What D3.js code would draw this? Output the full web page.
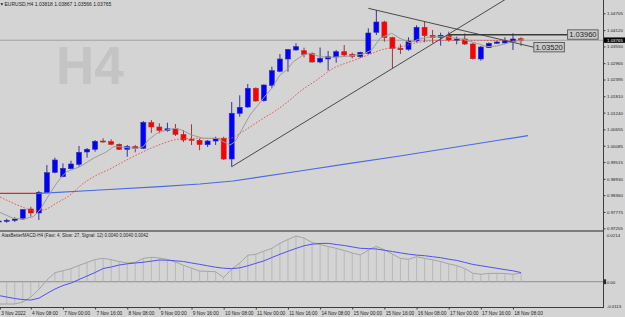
<!DOCTYPE html>
<html>
<head>
<meta charset="utf-8">
<script src="https://cdn.jsdelivr.net/npm/d3@7/dist/d3.min.js"></script>
<style>
  html, body { margin: 0; padding: 0; background: #d4d4d4; }
  svg { display: block; font-family: "Liberation Sans", Arial, sans-serif; }
</style>
</head>
<body>
<div id="chart"></div>
<script>
// ============================================================
//  DATA  (EURUSD H4, bar -1 = 3 Nov 20:00 ... bar 64 = 18 Nov 12:00)
// ============================================================

const openP = [0.97425, 0.97449, 0.97484, 0.97529, 0.97878, 0.97739, 0.98447, 0.99158, 0.99005, 0.99284,
    0.99438, 0.99867, 0.99961, 1.00250, 1.00226, 1.00135, 0.99961, 1.00052, 0.99996, 1.00896,
    1.00739, 1.00617, 1.00676, 1.00477, 1.00310, 1.00275, 1.00121, 1.00250, 1.00345, 0.99622,
    1.01217, 1.01436, 1.02089, 1.01656, 1.02193, 1.02682, 1.03111, 1.03425, 1.03400, 1.03296,
    1.03006, 1.03111, 1.03181, 1.03365, 1.03275, 1.03191, 1.03310, 1.04042, 1.04402, 1.03854,
    1.03484, 1.03449, 1.03739, 1.04217, 1.03938, 1.03868, 1.03938, 1.03763, 1.03809, 1.03634,
    1.03111, 1.03505, 1.03659, 1.03669, 1.03714, 1.03818];

const highP = [0.97495, 0.97540, 0.97589, 0.97878, 0.97958, 0.98506, 0.99413, 0.99668, 0.99472, 0.99563,
    1.00076, 1.00006, 1.00285, 1.00345, 1.00310, 1.00163, 1.00111, 1.00111, 1.00948, 1.00983,
    1.00868, 1.00889, 1.00843, 1.00634, 1.00833, 1.00331, 1.00285, 1.00400, 1.00400, 1.01611,
    1.01845, 1.02239, 1.02124, 1.02228, 1.02842, 1.03285, 1.03460, 1.03659, 1.03505, 1.03345,
    1.03512, 1.03390, 1.03425, 1.03599, 1.03331, 1.03365, 1.04182, 1.04820, 1.04447, 1.03889,
    1.03624, 1.03868, 1.04286, 1.04426, 1.04122, 1.04028, 1.04063, 1.03889, 1.04007, 1.03669,
    1.03564, 1.03686, 1.03739, 1.03868, 1.04007, 1.03867];

const lowP = [0.97390, 0.97400, 0.97425, 0.97505, 0.97610, 0.97495, 0.98426, 0.99124, 0.98984, 0.99263,
    0.99354, 0.99668, 0.99877, 1.00191, 1.00100, 0.99936, 0.99703, 0.99856, 0.99971, 1.00529,
    1.00519, 1.00575, 1.00425, 1.00215, 1.00111, 0.99926, 1.00041, 1.00111, 0.99588, 0.99354,
    1.01098, 1.01402, 1.01621, 1.01621, 1.02089, 1.02647, 1.02668, 1.03400, 1.03170, 1.02982,
    1.02961, 1.02710, 1.02982, 1.03191, 1.03135, 1.03146, 1.03275, 1.03948, 1.03714, 1.02786,
    1.03285, 1.03400, 1.03693, 1.03693, 1.03659, 1.03575, 1.03714, 1.03624, 1.03599, 1.03093,
    1.03052, 1.03495, 1.03634, 1.03624, 1.03425, 1.03566];

const closeP = [0.97460, 0.97484, 0.97529, 0.97854, 0.97739, 0.98461, 0.99145, 0.99588, 0.99298, 0.99448,
    0.99856, 0.99961, 1.00240, 1.00215, 1.00135, 0.99961, 1.00052, 0.99996, 1.00903, 1.00739,
    1.00617, 1.00676, 1.00484, 1.00285, 1.00275, 1.00128, 1.00250, 1.00345, 0.99622, 1.01217,
    1.01426, 1.02089, 1.01646, 1.02204, 1.02703, 1.03111, 1.03442, 1.03540, 1.03275, 1.03006,
    1.03135, 1.03191, 1.03365, 1.03250, 1.03205, 1.03345, 1.04018, 1.04402, 1.03854, 1.03484,
    1.03435, 1.03739, 1.04217, 1.03924, 1.03854, 1.03938, 1.03774, 1.03809, 1.03634, 1.03121,
    1.03529, 1.03659, 1.03704, 1.03749, 1.03809, 1.03765];

// Moving averages: [bar, price]
const maFast = [[-0.83, 0.97756], [0.82, 0.97554], [2.07, 0.97529], [3.31, 0.97610], [4.14, 0.97843],
    [5.39, 0.98426], [6.22, 0.98775], [6.84, 0.99005], [7.47, 0.99179], [9.12, 0.99354],
    [10.78, 0.99647], [12.44, 0.99877], [13.27, 1.00052], [14.1, 1.00052], [14.93, 1.00017],
    [16.18, 0.99996], [17.0, 1.00052], [17.62, 1.00285], [18.67, 1.00519], [19.91, 1.00634],
    [20.94, 1.00693], [21.78, 1.00634], [23.02, 1.00460], [24.46, 1.00345], [26.13, 1.00345],
    [27.79, 1.00111], [28.41, 1.00226], [29.24, 1.00634], [30.28, 1.01157], [31.11, 1.01447],
    [31.93, 1.01740], [32.98, 1.02089], [34.01, 1.02553], [34.84, 1.02727], [35.66, 1.03017],
    [36.91, 1.03250], [37.74, 1.03310], [38.99, 1.03191], [40.64, 1.03170], [42.72, 1.03215],
    [44.38, 1.03285], [45.42, 1.03425], [46.45, 1.03833], [47.91, 1.04007], [48.94, 1.03833],
    [50.19, 1.03679], [51.22, 1.03798], [52.26, 1.03868], [53.51, 1.03889], [54.75, 1.03889],
    [56.0, 1.03833], [56.82, 1.03798], [58.49, 1.03659], [59.73, 1.03540], [60.98, 1.03564],
    [62.22, 1.03659], [63.46, 1.03749], [64.4, 1.03791]];

const maMid = [[-0.83, 0.98297], [1.66, 0.97983], [3.27, 0.97826], [4.52, 0.97843], [6.22, 0.98088],
    [8.13, 0.98419], [9.12, 0.98681], [10.78, 0.98995], [12.85, 0.99274], [14.93, 0.99588],
    [17.0, 0.99877], [19.08, 1.00128], [21.57, 1.00320], [24.05, 1.00345], [27.79, 1.00345],
    [29.03, 1.00519], [30.28, 1.00739], [31.93, 1.01042], [33.6, 1.01332], [35.25, 1.01681],
    [36.5, 1.01977], [38.58, 1.02378], [40.64, 1.02786], [42.72, 1.03017], [44.8, 1.03233],
    [46.86, 1.03449], [48.94, 1.03529], [51.02, 1.03679], [53.09, 1.03749], [56.41, 1.03763],
    [60.14, 1.03756], [64.12, 1.03739]];

const maSlow = [[-0.83, 0.98419], [4.14, 0.98426], [11.61, 0.98541], [19.08, 0.98656], [24.05, 0.98750],
    [28.16, 0.98855], [36.5, 0.99204], [42.72, 0.99472], [48.94, 0.99727], [55.16, 1.00006],
    [61.39, 1.00285], [64.87, 1.00435]];

// MACD panel, one value per bar (-1 .. 64)
const macdMain = [-0.01022, -0.01022, -0.01022, -0.00930, -0.00701, -0.00357, 0.00078, 0.00412, 0.00504, 0.00596,
    0.00747, 0.00880, 0.01017, 0.01072, 0.01008, 0.00925, 0.00857, 0.00889, 0.01072, 0.01118,
    0.01086, 0.01017, 0.00903, 0.00751, 0.00619, 0.00490, 0.00476, 0.00458, 0.00192, 0.00582,
    0.00857, 0.01214, 0.01256, 0.01398, 0.01531, 0.01760, 0.01934, 0.02094, 0.02003, 0.01796,
    0.01705, 0.01613, 0.01531, 0.01430, 0.01315, 0.01224, 0.01453, 0.01622, 0.01462, 0.01269,
    0.01068, 0.01027, 0.01146, 0.01072, 0.01004, 0.00925, 0.00820, 0.00738, 0.00605, 0.00390,
    0.00339, 0.00380, 0.00385, 0.00376, 0.00339, 0.00400];

const macdSignal = [-0.00632, -0.00701, -0.00770, -0.00816, -0.00839, -0.00756, -0.00541, -0.00335, -0.00174, -0.00060,
    0.00101, 0.00261, 0.00422, 0.00605, 0.00674, 0.00765, 0.00820, 0.00857, 0.00894, 0.00940,
    0.00995, 0.00985, 0.00958, 0.00926, 0.00857, 0.00797, 0.00729, 0.00665, 0.00619, 0.00600,
    0.00637, 0.00729, 0.00843, 0.00953, 0.01109, 0.01256, 0.01393, 0.01526, 0.01645, 0.01719,
    0.01751, 0.01760, 0.01705, 0.01659, 0.01595, 0.01531, 0.01517, 0.01499, 0.01439, 0.01384,
    0.01320, 0.01265, 0.01219, 0.01192, 0.01146, 0.01100, 0.01031, 0.00976, 0.00885, 0.00793,
    0.00733, 0.00674, 0.00614, 0.00555, 0.00500, 0.00420];

// Trend lines: [bar, price]
const trendUp = [[28, 0.99354], [62, 1.05180]];
const trendDown = [[45, 1.04879], [65.6, 1.03520]];
const levelLine = { from: 55, to: 69.8, price: 1.03960 };
const redLevel = { from: -0.83, to: 3.9, price: 0.98426 };

const priceTicks = ["1.04705", "1.04120", "1.03550", "1.02965", "1.02395", "1.01810", "1.01240",
    "1.00655", "1.00085", "0.99515", "0.98930", "0.98360", "0.97775", "0.97205"];
const macdTicks = ["0.0214", "0.00", "-0.0113"];
const timeTickBars = [-0.85, 3, 7, 11, 15, 19, 23, 27, 31, 35, 39, 43, 47, 51, 55, 59, 63];
const timeTickLabels = ["3 Nov 2022", "4 Nov 08:00", "7 Nov 00:00", "7 Nov 16:00", "8 Nov 08:00",
    "9 Nov 00:00", "9 Nov 16:00", "10 Nov 08:00", "11 Nov 00:00", "11 Nov 16:00", "14 Nov 08:00",
    "15 Nov 00:00", "15 Nov 16:00", "16 Nov 08:00", "17 Nov 00:00", "17 Nov 16:00", "18 Nov 08:00"];

const bidPrice = 1.03765;
const titleText = "EURUSD,H4  1.03818 1.03867 1.03566 1.03765";
const macdTitle = "AtasBetterMACD-H4 (Fast: 4, Slow: 27, Signal: 12) 0.0040 0.0040 0.0042";

// ============================================================
//  CONFIGURATION
// ============================================================

const CONFIG = {
    WIDTH: 625,
    HEIGHT: 317,
    BG: "#d4d4d4",
    AXIS_X: 603,
    MAIN_BOTTOM: 230,
    MACD_TOP: 232,
    TIME_AXIS_Y: 307.5,

    BULL: "#0000ff", BULL_EDGE: "#34349c",
    BEAR: "#ff0000", BEAR_EDGE: "#a83434",
    BODY_W: 5,

    TEXT: "#1e1e1e",
    AXIS: "#3c3c3c",
};

// ============================================================
//  SCALES
// ============================================================

const x = d3.scaleLinear().domain([0, 64]).range([6.7, 521]);
const y = d3.scaleLinear().domain([0.97205, 1.04705]).range([228.3, 13.3]);
const ym = d3.scaleLinear().domain([-0.0113, 0.0214]).range([306.4, 235]);

const bars = openP.map((o, i) => ({
    k: i - 1, o, h: highP[i], l: lowP[i], c: closeP[i],
    macd: macdMain[i], signal: macdSignal[i]
}));

const svg = d3.select("#chart").append("svg")
    .attr("width", CONFIG.WIDTH)
    .attr("height", CONFIG.HEIGHT);

svg.append("rect").attr("width", CONFIG.WIDTH).attr("height", CONFIG.HEIGHT).attr("fill", CONFIG.BG);

const defs = svg.append("defs");
defs.append("clipPath").attr("id", "clip-main")
    .append("rect").attr("x", 0).attr("y", 0).attr("width", CONFIG.AXIS_X).attr("height", CONFIG.MAIN_BOTTOM);
defs.append("clipPath").attr("id", "clip-macd")
    .append("rect").attr("x", 0).attr("y", CONFIG.MACD_TOP).attr("width", CONFIG.AXIS_X)
    .attr("height", CONFIG.TIME_AXIS_Y - CONFIG.MACD_TOP);

// ============================================================
//  MAIN PANEL
// ============================================================

const main = svg.append("g").attr("clip-path", "url(#clip-main)");

// --- Watermark ---
main.append("text")
    .attr("x", 56).attr("y", 83.5)
    .style("font-size", "53px").style("font-weight", "bold")
    .attr("fill", "#c4c4c4")
    .text("H4");

// --- Title ---
main.append("path").attr("d", "M0.5,3.2 L3.3,3.2 L1.9,5.6 Z").attr("fill", CONFIG.TEXT);
main.append("text")
    .attr("x", 4.5).attr("y", 6.4)
    .style("font-size", "5px").attr("fill", CONFIG.TEXT)
    .text(titleText);

// --- Bid line ---
main.append("line")
    .attr("x1", 0).attr("x2", CONFIG.AXIS_X)
    .attr("y1", y(bidPrice)).attr("y2", y(bidPrice))
    .attr("stroke", "#a2a2a2").attr("stroke-width", 1);

// --- Candles ---
const candle = main.append("g").selectAll("g")
    .data(bars)
    .join("g");

candle.append("line")
    .attr("x1", d => x(d.k)).attr("x2", d => x(d.k))
    .attr("y1", d => y(d.h)).attr("y2", d => y(d.l))
    .attr("stroke", d => d.c >= d.o ? CONFIG.BULL_EDGE : CONFIG.BEAR_EDGE)
    .attr("stroke-width", 1);

candle.append("rect")
    .attr("x", d => x(d.k) - CONFIG.BODY_W / 2)
    .attr("y", d => y(Math.max(d.o, d.c)))
    .attr("width", CONFIG.BODY_W)
    .attr("height", d => Math.max(1, Math.abs(y(d.o) - y(d.c))))
    .attr("fill", d => d.c >= d.o ? CONFIG.BULL : CONFIG.BEAR)
    .attr("stroke", d => d.c >= d.o ? CONFIG.BULL_EDGE : CONFIG.BEAR_EDGE)
    .attr("stroke-width", 0.6);

// --- Moving averages ---
const ptLine = d3.line().x(d => x(d[0])).y(d => y(d[1]));

main.append("path").datum(maSlow).attr("d", ptLine)
    .attr("fill", "none").attr("stroke", "#4a6ae6").attr("stroke-width", 1.2);

main.append("line")
    .attr("x1", x(redLevel.from)).attr("x2", x(redLevel.to))
    .attr("y1", y(redLevel.price)).attr("y2", y(redLevel.price))
    .attr("stroke", "#e02828").attr("stroke-width", 1.3);

main.append("path").datum(maMid).attr("d", ptLine.curve(d3.curveMonotoneX))
    .attr("fill", "none").attr("stroke", "#f04848").attr("stroke-width", 0.9)
    .attr("stroke-dasharray", "1.6,1.6");

main.append("path").datum(maFast).attr("d", d3.line().x(d => x(d[0])).y(d => y(d[1])))
    .attr("fill", "none").attr("stroke", "#9c9c9c").attr("stroke-width", 1);

// --- Trend lines ---
[trendUp, trendDown].forEach(t => {
    main.append("line")
        .attr("x1", x(t[0][0])).attr("y1", y(t[0][1]))
        .attr("x2", x(t[1][0])).attr("y2", y(t[1][1]))
        .attr("stroke", "#4a4a4a").attr("stroke-width", 1);
});

main.append("line")
    .attr("x1", x(levelLine.from)).attr("x2", x(levelLine.to))
    .attr("y1", y(levelLine.price)).attr("y2", y(levelLine.price))
    .attr("stroke", "#3a3a3a").attr("stroke-width", 1.5);

// Price tags at the end of the drawn lines
function priceTag(px, py, label) {
    const g = main.append("g");
    g.append("rect")
        .attr("x", px).attr("y", py - 4.8)
        .attr("width", 30.5).attr("height", 9.4)
        .attr("fill", "#c9c9c9").attr("stroke", "#555").attr("stroke-width", 0.9);
    g.append("text")
        .attr("x", px + 15.25).attr("y", py + 2.7)
        .attr("text-anchor", "middle")
        .style("font-size", "7.6px").attr("fill", CONFIG.TEXT)
        .text(label);
}
priceTag(x(levelLine.to), y(levelLine.price), d3.format(".5f")(levelLine.price));
priceTag(x(trendDown[1][0]), y(trendDown[1][1]), d3.format(".5f")(trendDown[1][1]));

// ============================================================
//  MACD PANEL
// ============================================================

svg.append("rect")
    .attr("x", 0).attr("y", CONFIG.MAIN_BOTTOM)
    .attr("width", CONFIG.AXIS_X).attr("height", CONFIG.MACD_TOP - CONFIG.MAIN_BOTTOM)
    .attr("fill", "#7c7c7c");

const macd = svg.append("g").attr("clip-path", "url(#clip-macd)");

macd.append("line")
    .attr("x1", 0).attr("x2", CONFIG.AXIS_X)
    .attr("y1", ym(0)).attr("y2", ym(0))
    .attr("stroke", "#8e8e8e").attr("stroke-width", 1);

macd.append("g").selectAll("line")
    .data(bars)
    .join("line")
    .attr("x1", d => x(d.k)).attr("x2", d => x(d.k))
    .attr("y1", ym(0)).attr("y2", d => ym(d.macd))
    .attr("stroke", "#b6b6b6").attr("stroke-width", 0.9);

macd.append("path").datum(bars)
    .attr("d", d3.line().x(d => x(d.k)).y(d => ym(d.macd)))
    .attr("fill", "none").attr("stroke", "#a4a4a4").attr("stroke-width", 1);

macd.append("path").datum(bars)
    .attr("d", d3.line().x(d => x(d.k)).y(d => ym(d.signal)))
    .attr("fill", "none").attr("stroke", "#5050f0").attr("stroke-width", 1);

macd.append("text")
    .attr("x", 1.5).attr("y", 237.4)
    .style("font-size", "4.5px").attr("fill", CONFIG.TEXT)
    .text(macdTitle);

// ============================================================
//  AXES
// ============================================================

svg.append("line")
    .attr("x1", CONFIG.AXIS_X + 0.5).attr("x2", CONFIG.AXIS_X + 0.5)
    .attr("y1", 0).attr("y2", CONFIG.TIME_AXIS_Y)
    .attr("stroke", CONFIG.AXIS).attr("stroke-width", 1);

svg.append("line")
    .attr("x1", 0).attr("x2", CONFIG.AXIS_X + 1)
    .attr("y1", CONFIG.TIME_AXIS_Y).attr("y2", CONFIG.TIME_AXIS_Y)
    .attr("stroke", CONFIG.AXIS).attr("stroke-width", 1);

function styleAxis(g, size) {
    g.select(".domain").remove();
    g.selectAll(".tick line").attr("stroke", CONFIG.AXIS);
    g.selectAll(".tick text").attr("fill", CONFIG.TEXT).style("font-size", size)
        .style("font-family", '"Liberation Sans", Arial, sans-serif');
}

svg.append("g")
    .attr("transform", `translate(${CONFIG.AXIS_X + 0.5},0)`)
    .call(d3.axisRight(y).tickValues(priceTicks.map(Number)).tickSize(2)
        .tickFormat(d => priceTicks.find(t => +t === d)))
    .call(g => styleAxis(g, "4.4px"))
    .call(g => g.selectAll(".tick text").attr("x", 3.5));

svg.append("g")
    .attr("transform", `translate(${CONFIG.AXIS_X + 0.5},0)`)
    .call(d3.axisRight(ym).tickValues(macdTicks.map(Number)).tickSize(0)
        .tickFormat(d => macdTicks.find(t => +t === d)))
    .call(g => styleAxis(g, "4.4px"))
    .call(g => g.selectAll(".tick text").attr("x", 3.2));

// zero marker on the MACD scale
svg.append("rect")
    .attr("x", CONFIG.AXIS_X + 0.5).attr("y", ym(0) - 2.4)
    .attr("width", 2.6).attr("height", 4.8).attr("fill", "#2a2a2a");

// current price tag
const bidTag = svg.append("g");
bidTag.append("rect")
    .attr("x", CONFIG.AXIS_X + 1).attr("y", y(bidPrice) - 2.8)
    .attr("width", CONFIG.WIDTH - CONFIG.AXIS_X - 1).attr("height", 5.4)
    .attr("fill", "#000");
bidTag.append("text")
    .attr("x", CONFIG.AXIS_X + 4).attr("y", y(bidPrice) + 1.6)
    .style("font-size", "4.4px").attr("fill", "#fff")
    .text(d3.format(".5f")(bidPrice));

svg.append("g")
    .attr("transform", `translate(0,${CONFIG.TIME_AXIS_Y})`)
    .call(d3.axisBottom(x).tickValues(timeTickBars).tickSize(2)
        .tickFormat((d, i) => timeTickLabels[i]))
    .call(g => styleAxis(g, "4.8px"))
    .call(g => g.selectAll(".tick text").attr("text-anchor", "start").attr("x", 0.8).attr("y", 4));
</script>
</body>
</html>
